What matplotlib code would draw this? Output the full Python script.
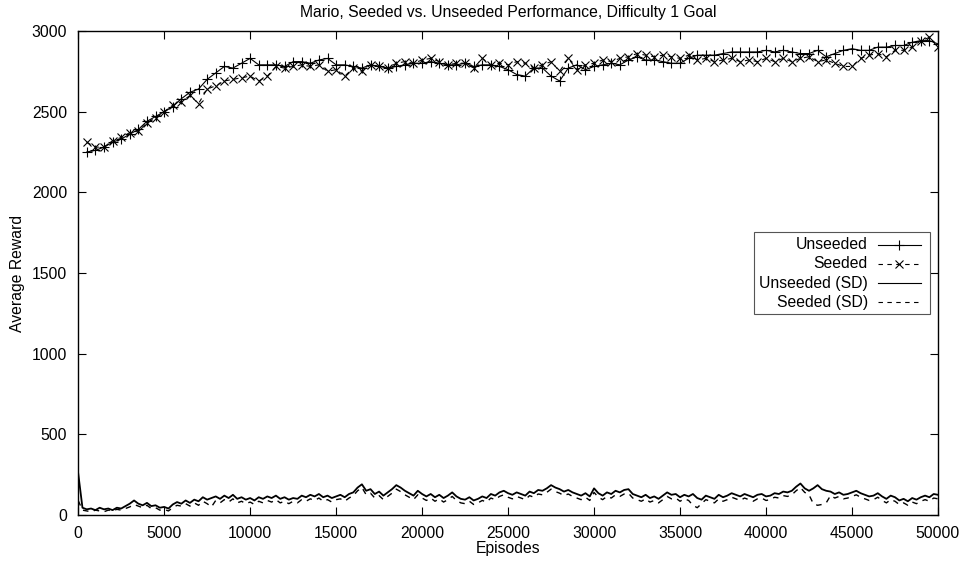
import matplotlib
matplotlib.use('Agg')
import matplotlib.pyplot as plt
from matplotlib.patches import Rectangle
from matplotlib.lines import Line2D
import numpy as np

plt.rcParams['font.family'] = ['Liberation Sans', 'DejaVu Sans']

# episodes for the marked series (one point every 500 episodes)
episodes = np.arange(500, 50001, 500)

unseeded = [2250, 2260, 2280, 2310, 2330, 2360, 2390, 2440, 2470, 2500,
            2530, 2580, 2620, 2640, 2700, 2740, 2780, 2770, 2800, 2830,
            2790, 2790, 2790, 2780, 2810, 2810, 2800, 2820, 2830, 2790,
            2790, 2780, 2770, 2790, 2780, 2770, 2780, 2790, 2800, 2800,
            2810, 2800, 2790, 2790, 2800, 2780, 2790, 2790, 2780, 2760,
            2730, 2720, 2770, 2770, 2720, 2690, 2770, 2790, 2760, 2780,
            2790, 2800, 2790, 2820, 2840, 2820, 2820, 2810, 2800, 2800,
            2830, 2850, 2850, 2850, 2860, 2870, 2870, 2870, 2870, 2880,
            2870, 2880, 2870, 2860, 2860, 2880, 2840, 2860, 2880, 2890,
            2880, 2880, 2900, 2900, 2910, 2910, 2930, 2940, 2940, 2920]

seeded = [2310, 2280, 2280, 2320, 2340, 2370, 2380, 2430, 2460, 2500,
          2540, 2560, 2600, 2550, 2640, 2660, 2690, 2700, 2710, 2720,
          2690, 2720, 2780, 2770, 2780, 2790, 2780, 2790, 2750, 2760,
          2720, 2770, 2750, 2790, 2780, 2770, 2800, 2810, 2800, 2820,
          2830, 2810, 2790, 2800, 2800, 2770, 2830, 2790, 2800, 2790,
          2810, 2800, 2770, 2790, 2810, 2750, 2830, 2760, 2790, 2800,
          2820, 2810, 2830, 2840, 2860, 2850, 2840, 2850, 2840, 2830,
          2850, 2820, 2830, 2810, 2820, 2830, 2810, 2820, 2810, 2830,
          2810, 2830, 2810, 2830, 2840, 2810, 2820, 2800, 2780, 2780,
          2830, 2850, 2860, 2840, 2880, 2880, 2900, 2940, 2960, 2900]

# standard deviation series, one point every 250 episodes
sd_episodes = np.arange(0, 50001, 250)

unseeded_sd = [260, 45, 35, 40, 30, 45, 35, 40, 30, 45,
               40, 55, 70, 90, 70, 60, 75, 55, 60, 45,
               50, 40, 65, 80, 70, 90, 75, 95, 85, 110,
               95, 105, 115, 100, 120, 105, 125, 100, 110, 95,
               105, 90, 110, 100, 115, 105, 120, 100, 110, 95,
               105, 100, 120, 110, 125, 115, 130, 110, 120, 105,
               115, 125, 110, 130, 140, 170, 190, 150, 160, 130,
               145, 120, 140, 160, 185, 170, 150, 135, 120, 150,
               130, 115, 130, 110, 125, 105, 120, 140, 115, 100,
               95, 110, 90, 100, 115, 105, 130, 120, 140, 150,
               135, 125, 140, 130, 120, 145, 135, 155, 150, 165,
               185, 170, 160, 145, 155, 140, 130, 120, 135, 115,
               165, 135, 120, 140, 130, 150, 140, 155, 160, 130,
               120, 110, 125, 105, 115, 100, 120, 140, 125, 130,
               110, 125, 115, 130, 105, 95, 120, 110, 100, 125,
               110, 120, 135, 125, 115, 130, 120, 110, 125, 130,
               115, 120, 135, 130, 145, 140, 150, 175, 195, 165,
               150, 165, 185, 160, 150, 145, 130, 140, 125, 130,
               140, 150, 135, 125, 115, 120, 135, 115, 100, 120,
               110, 90, 100, 85, 105, 95, 110, 120, 110, 130,
               125]

seeded_sd = [90, 30, 25, 20, 30, 25, 20, 30, 25, 35,
             30, 40, 50, 65, 55, 45, 60, 40, 45, 30,
             35, 25, 45, 60, 55, 70, 55, 75, 60, 85,
             70, 50, 90, 75, 95, 80, 100, 75, 85, 70,
             80, 65, 85, 75, 90, 80, 95, 75, 85, 70,
             85, 75, 95, 85, 100, 90, 105, 85, 95, 80,
             95, 100, 85, 105, 120, 150, 170, 125, 135, 105,
             120, 95, 115, 135, 160, 145, 125, 110, 95, 125,
             105, 90, 105, 85, 100, 80, 95, 115, 90, 75,
             70, 85, 65, 75, 90, 80, 105, 95, 115, 125,
             110, 100, 115, 105, 95, 120, 110, 130, 125, 140,
             160, 145, 135, 120, 130, 115, 105, 95, 110, 90,
             140, 110, 95, 115, 105, 125, 115, 130, 135, 105,
             95, 85, 100, 80, 90, 75, 95, 115, 100, 105,
             85, 100, 90, 60, 45, 70, 95, 85, 75, 100,
             85, 95, 110, 100, 90, 105, 95, 85, 100, 105,
             90, 95, 110, 105, 120, 115, 125, 150, 170, 140,
             125, 70, 60, 65, 75, 120, 105, 115, 100, 105,
             115, 125, 110, 100, 90, 95, 110, 90, 75, 95,
             85, 65, 75, 60, 80, 70, 85, 95, 85, 105,
             100]

labels = ['Unseeded', 'Seeded', 'Unseeded (SD)', 'Seeded (SD)']

fs = 11.3
fig = plt.figure(figsize=(9.65, 5.63), dpi=100)
ax = fig.add_axes([0.081, 0.0853, 0.891, 0.8597])

dash = (0, (4, 4))
ax.plot(episodes, unseeded, color='black', linewidth=0.8, marker='+',
        markersize=7, markeredgewidth=0.8)
ax.plot(episodes, seeded, color='black', linewidth=0.8, linestyle=dash,
        marker='x', markersize=6, markeredgewidth=0.8)
ax.plot(sd_episodes, unseeded_sd, color='black', linewidth=1.3)
ax.plot(sd_episodes, seeded_sd, color='black', linewidth=1.0, linestyle=dash)

ax.set_xlim(0, 50000)
ax.set_ylim(0, 3000)
ax.set_xticks(np.arange(0, 50001, 5000))
ax.set_yticks(np.arange(0, 3001, 500))
ax.tick_params(direction='in', length=6, width=0.8, top=True, right=True,
               labelsize=fs, pad=8)
for s in ax.spines.values():
    s.set_linewidth(1.0)

ax.set_xlabel('Episodes', fontsize=fs, labelpad=0)
ax.set_ylabel('Average Reward', fontsize=fs, labelpad=5)
ax.set_title('Mario, Seeded vs. Unseeded Performance, Difficulty 1 Goal',
             fontsize=fs, pad=10)

# gnuplot-style key: right-aligned labels followed by line samples
ax.add_patch(Rectangle((0.786, 0.415), 0.205, 0.170, transform=ax.transAxes,
                       fill=True, facecolor='white', edgecolor='#555555',
                       linewidth=0.8, zorder=5))
rows = [0.558, 0.519, 0.479, 0.440]
styles = [('-', '+', 7), (dash, 'x', 6), ('-', None, 0), (dash, None, 0)]
for lab, y, (ls, mk, ms) in zip(labels, rows, styles):
    ax.text(0.9186, y, lab, transform=ax.transAxes, ha='right', va='center',
            fontsize=fs, zorder=6)
    ax.add_line(Line2D([0.930, 0.980], [y, y], transform=ax.transAxes,
                       color='black', linewidth=0.8, linestyle=ls, zorder=6))
    if mk:
        ax.add_line(Line2D([0.955], [y], transform=ax.transAxes, color='black',
                           marker=mk, markersize=ms, markeredgewidth=0.8,
                           linestyle='none', zorder=6))

plt.savefig('out.png', dpi=100, facecolor='white')
plt.close()
